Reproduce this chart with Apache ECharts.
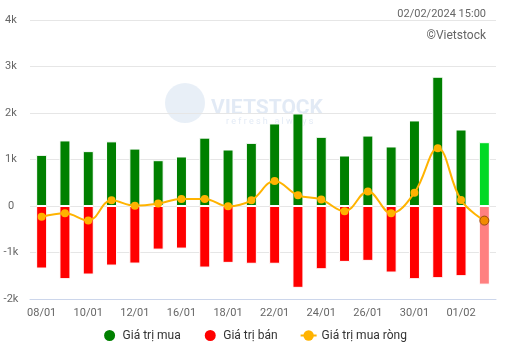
<!DOCTYPE html>
<html>
<head>
<meta charset="utf-8">
<script src="https://cdn.jsdelivr.net/npm/echarts@6/dist/echarts.min.js"></script>
<style>
  html, body { margin: 0; padding: 0; background: #fff; }
  #chart { width: 509px; height: 353px; }
</style>
</head>
<body>
<div id="chart"></div>
<script>
// ngày giao dịch
var days = ["08/01", "09/01", "10/01", "11/01", "12/01", "15/01", "16/01", "17/01", "18/01", "19/01",
  "22/01", "23/01", "24/01", "25/01", "26/01", "29/01", "30/01", "31/01", "01/02", "02/02"];
var buyValues = [1100, 1410, 1180, 1390, 1235, 985, 1065, 1470, 1215, 1358,
  1775, 1990, 1488, 1086, 1515, 1280, 1840, 2780, 1645, 1372];
var sellValues = [-1345, -1573, -1474, -1281, -1238, -938, -916, -1324, -1223, -1242,
  -1242, -1760, -1360, -1202, -1180, -1431, -1574, -1552, -1509, -1691];
var netValues = [-232, -155, -312, 122, 8, 52, 152, 152, -6, 122,
  540, 232, 138, -114, 314, -155, 285, 1240, 127, -314];
var yTicks = [-2000, -1000, 0, 1000, 2000, 3000, 4000];

var chart = echarts.init(document.getElementById("chart"));
var last = days.length - 1;

// cột cuối đang được hover
var buyData = buyValues.map(function (v, i) {
  return i === last ? { value: v, itemStyle: { color: "#00d924" } } : v;
});
var sellData = sellValues.map(function (v, i) {
  return i === last ? { value: v, itemStyle: { color: "#ff8080" } } : v;
});
var netData = netValues.map(function (v, i) {
  return i === last
    ? { value: v, symbolSize: 9, itemStyle: { color: "#f28a00", borderColor: "#9a4a10", borderWidth: 1 } }
    : v;
});

var option = {
  animation: false,
  textStyle: { fontFamily: "Roboto, 'Noto Sans', sans-serif" },
  title: [
    { text: "02/02/2024 15:00", right: 18, top: 4,
      textStyle: { fontSize: 11, fontWeight: "normal", color: "#666" } },
    { text: "©Vietstock", right: 18, top: 25,
      textStyle: { fontSize: 12, fontWeight: "normal", color: "#666" } }
  ],
  graphic: [
    { type: "circle", shape: { cx: 185, cy: 103, r: 20 }, silent: true, z: 0,
      style: { fill: "rgba(190,208,232,0.35)" } },
    { type: "text", left: 211, top: 98, silent: true, z: 0,
      style: { text: "VIETSTOCK", fill: "rgba(190,208,232,0.45)",
        font: "bold 21px Roboto, sans-serif" } },
    { type: "text", left: 226, top: 117, silent: true, z: 0,
      style: { text: "r e f r e s h   a l w a y s", fill: "rgba(190,208,232,0.45)",
        font: "9px Roboto, sans-serif" } }
  ],
  legend: {
    bottom: 5,
    left: "center",
    itemWidth: 16,
    itemHeight: 13,
    itemGap: 22,
    textStyle: { fontSize: 12, color: "#333" },
    data: [
      { name: "Giá trị mua", icon: "circle" },
      { name: "Giá trị bán", icon: "circle" },
      { name: "Giá trị mua ròng" }
    ]
  },
  grid: { left: 30, right: 13, top: 20, bottom: 54 },
  xAxis: {
    type: "category",
    data: days,
    axisLine: { onZero: false, lineStyle: { color: "#ccd6eb" } },
    axisTick: { show: false },
    axisLabel: { interval: 1, color: "#666", fontSize: 11, margin: 9 }
  },
  yAxis: {
    type: "value",
    min: yTicks[0],
    max: yTicks[yTicks.length - 1],
    interval: 1000,
    axisLine: { show: false },
    axisTick: { show: false },
    splitLine: { lineStyle: { color: "#e6e6e6" } },
    axisLabel: {
      color: "#666", fontSize: 11, align: "center", margin: 19,
      formatter: function (v) { return v === 0 ? "0" : v / 1000 + "k"; }
    }
  },
  series: [
    {
      name: "Giá trị mua", type: "bar", stack: "gt", barWidth: 11,
      itemStyle: { color: "#008000", borderColor: "#ffffff", borderWidth: 1 },
      data: buyData
    },
    {
      name: "Giá trị bán", type: "bar", stack: "gt", barWidth: 11,
      itemStyle: { color: "#ff0000", borderColor: "#ffffff", borderWidth: 1 },
      data: sellData
    },
    {
      name: "Giá trị mua ròng", type: "line", smooth: 0.4,
      symbol: "circle", symbolSize: 8, z: 5,
      itemStyle: { color: "#ffb300" },
      lineStyle: { color: "#ffb300", width: 2 },
      data: netData
    }
  ]
};

chart.setOption(option);
</script>
</body>
</html>
